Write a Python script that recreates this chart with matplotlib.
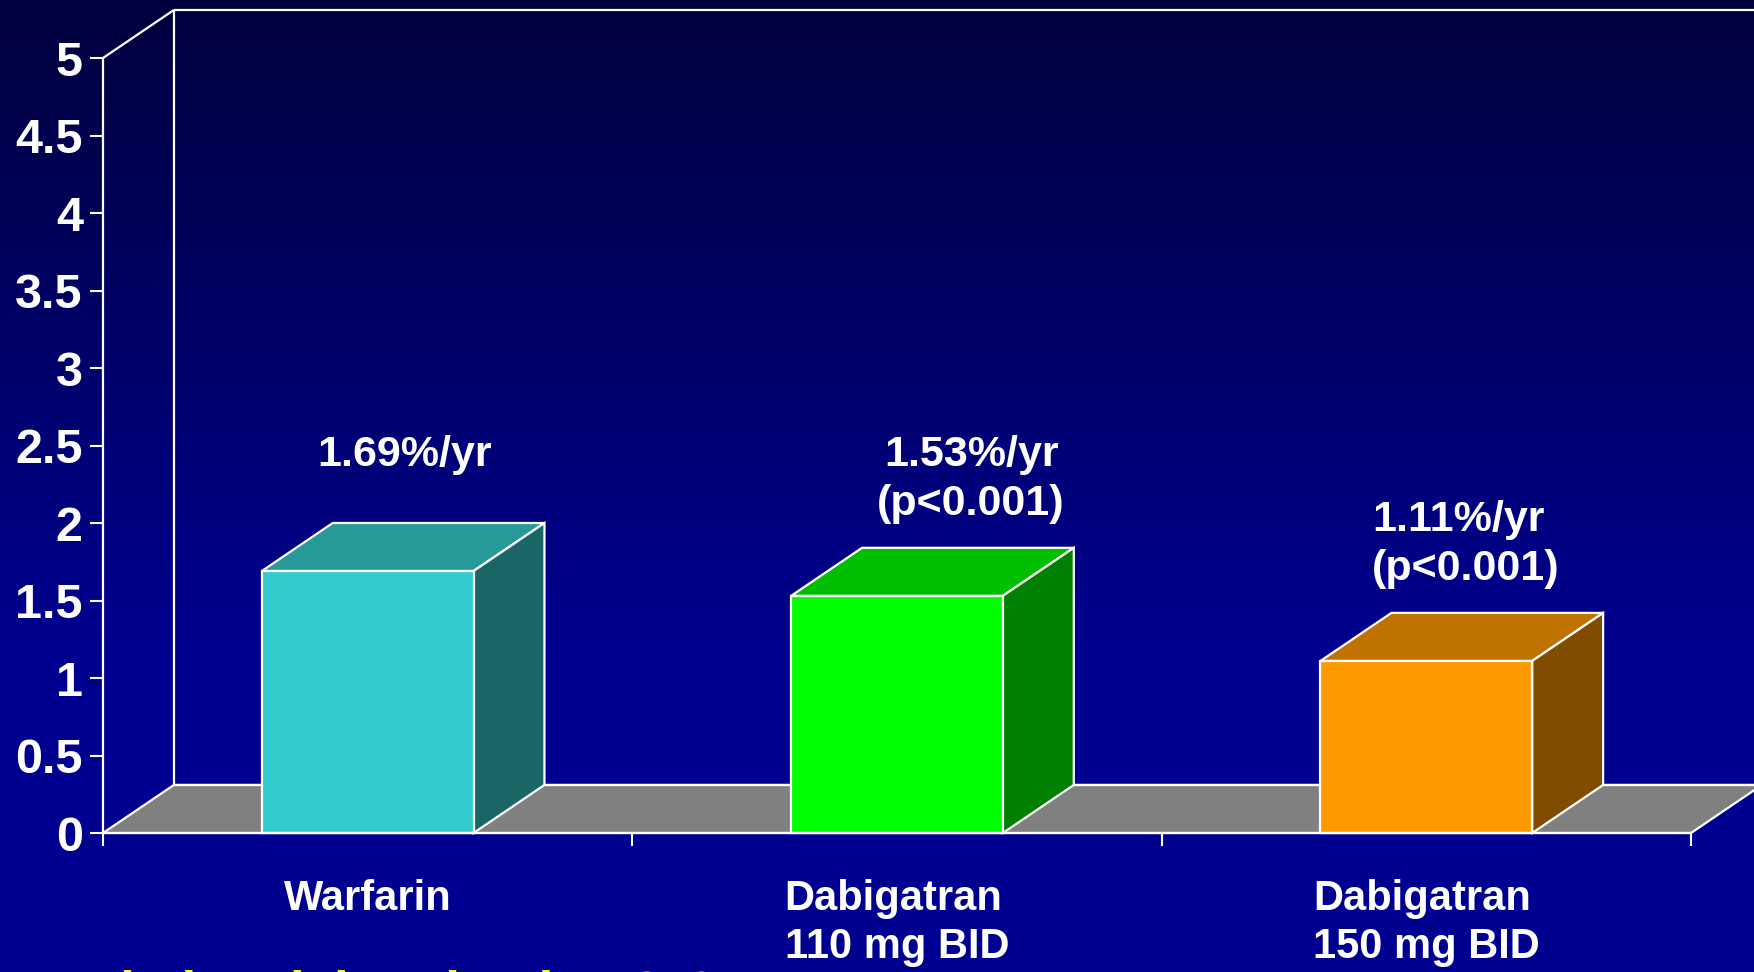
import numpy as np
import matplotlib.pyplot as plt
from matplotlib.patches import Polygon, Rectangle

plt.rcParams['font.family'] = ['Liberation Sans', 'DejaVu Sans']
plt.rcParams['font.weight'] = 'bold'

categories = ['Warfarin', 'Dabigatran\n110 mg BID', 'Dabigatran\n150 mg BID']
rates = [1.69, 1.53, 1.11]
value_labels = ['1.69%/yr', '1.53%/yr\n(p<0.001)', '1.11%/yr\n(p<0.001)']
y_ticks = [0, 0.5, 1, 1.5, 2, 2.5, 3, 3.5, 4, 4.5, 5]
y_ticklabels = ['0', '0.5', '1', '1.5', '2', '2.5', '3', '3.5', '4', '4.5', '5']
footnote = 'Relative risk reduction 34%'

front_colors = ['#33CCCC', '#00FF00', '#FF9900']
top_colors = ['#269999', '#00BF00', '#BF7200']
side_colors = ['#1A6666', '#008000', '#804C00']
label_shift = [0.07, 0.14, 0.075]
label_align = ['center', 'center', 'left']

W, H = 1754, 972
DX, DY = 0.134, 0.31      # depth of the 3-D box in data units
BAR_W = 0.4
EDGE = dict(edgecolor='white', linewidth=1.6)

fig = plt.figure(figsize=(W / 100, H / 100), dpi=100)

# vertical navy gradient behind everything
bg = fig.add_axes([0, 0, 1, 1])
rows = np.linspace(0, 1, 400)
blue = np.clip(0.24 + (0.565 - 0.24) * rows / 0.67, 0, 0.565)
grad = np.zeros((400, 1, 3))
grad[:, 0, 2] = blue
bg.imshow(grad, aspect='auto', extent=[0, 1, 0, 1], origin='upper')
bg.set_axis_off()

ax = fig.add_axes([103 / W, (H - 833) / H, (1691 - 103) / W, 775 / H])
ax.patch.set_alpha(0)
ax.set_xlim(0, 3)
ax.set_ylim(0, 5)
for s in ax.spines.values():
    s.set_visible(False)

n = len(categories)
line_kw = dict(color='white', lw=1.6, clip_on=False, solid_capstyle='butt')

# floor
ax.add_patch(Polygon([(0, 0), (n, 0), (n + DX, DY), (DX, DY)], closed=True,
                     facecolor='#808080', clip_on=False, zorder=1, **EDGE))
ax.plot([DX, n + 1], [DY, DY], zorder=1.5, **line_kw)
# walls
ax.plot([0, 0], [0, 5], zorder=2, **line_kw)
ax.plot([0, DX], [5, 5 + DY], zorder=2, **line_kw)
ax.plot([DX, DX], [DY, 5 + DY], zorder=1.5, **line_kw)
ax.plot([DX, n + 1], [5 + DY, 5 + DY], zorder=1.5, **line_kw)

# 3-D bars
for i, v in enumerate(rates):
    x0 = i + 0.5 - BAR_W / 2
    x1 = x0 + BAR_W
    ax.add_patch(Polygon([(x0, v), (x1, v), (x1 + DX, v + DY), (x0 + DX, v + DY)],
                         closed=True, facecolor=top_colors[i], clip_on=False, zorder=3, **EDGE))
    ax.add_patch(Polygon([(x1, 0), (x1 + DX, DY), (x1 + DX, v + DY), (x1, v)],
                         closed=True, facecolor=side_colors[i], clip_on=False, zorder=3, **EDGE))
    ax.add_patch(Rectangle((x0, 0), BAR_W, v, facecolor=front_colors[i],
                           clip_on=False, zorder=4, **EDGE))
    ax.text(i + 0.5 + label_shift[i], v + 0.75, value_labels[i], color='white',
            fontsize=31, fontweight='bold', ha='center', va='center',
            multialignment=label_align[i], linespacing=1.3, zorder=5)

ax.plot([0, n], [0, 0], zorder=5, **line_kw)

ax.set_yticks(y_ticks, labels=y_ticklabels)
ax.tick_params(axis='y', colors='white', length=9.5, width=1.5, pad=5, labelsize=35)
ax.set_xticks(range(n + 1), labels=[''] * (n + 1))
ax.tick_params(axis='x', which='major', colors='white', length=9, width=1.5)
ax.set_xticks([i + 0.5 for i in range(n)], labels=categories, minor=True)
ax.tick_params(axis='x', which='minor', length=0, pad=33, labelsize=30, labelcolor='white')
for lab in ax.get_xticklabels(minor=True):
    lab.set_multialignment('left')
    lab.set_linespacing(1.25)
for lab in ax.get_yticklabels() + ax.get_xticklabels(minor=True):
    lab.set_fontweight('bold')

fig.text(738 / W, (H - 969) / H, footnote, color='#FFFF00', fontsize=38,
         fontweight='bold', ha='right', va='top')

fig.savefig('out.png', dpi=100)
